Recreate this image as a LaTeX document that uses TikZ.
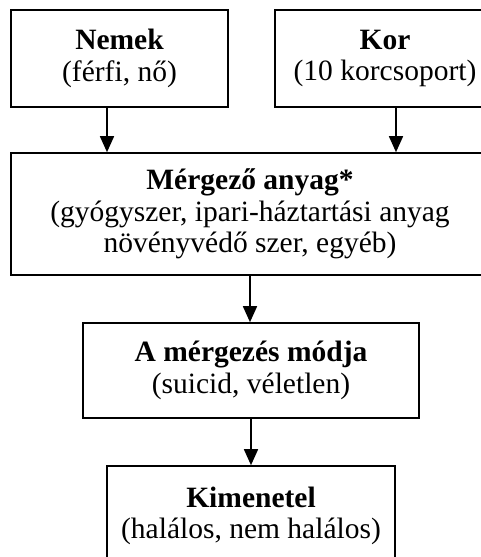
\documentclass[tikz,border=0pt]{standalone}
\usepackage{fontspec}
\setmainfont{Liberation Serif}
\usetikzlibrary{arrows.meta}

\tikzset{
  doboz/.style={draw, line width=1.6pt, inner sep=0pt, align=center,
    font=\fontsize{29.5}{31.5}\selectfont},
  nyil/.style={-{Triangle[width=14pt,length=16pt]}, line width=1.6pt}
}

\begin{document}
\begin{tikzpicture}[x=1pt, y=-1pt]
  % keret (481 x 557)
  \useasboundingbox (0,0) rectangle (481,557);
  \clip (0,0) rectangle (481,557);

  % felső sor
  \node[doboz, minimum width=217pt, minimum height=97pt] (nemek) at (119.5,58.5)
    {\textbf{Nemek}\\(férfi, nő)};
  \node[doboz, minimum width=220pt, minimum height=97pt] (kor) at (385,58.5)
    {\textbf{Kor}\\(10 korcsoport)};

  % mérgező anyag
  \node[doboz, minimum width=478pt, minimum height=122pt] (anyag) at (250,214)
    {\textbf{Mérgező anyag*}\\(gyógyszer, ipari-háztartási anyag\\növényvédő szer, egyéb)};

  % mód és kimenetel
  \node[doboz, minimum width=336pt, minimum height=95pt] (mod) at (251,370.5)
    {\textbf{A mérgezés módja}\\(suicid, véletlen)};
  \node[doboz, minimum width=288pt, minimum height=100pt] (kim) at (251,516)
    {\textbf{Kimenetel}\\(halálos, nem halálos)};

  % nyilak
  \draw[nyil] ([xshift=-12.5pt]nemek.south) -- ([xshift=-12.5pt]nemek.south |- anyag.north);
  \draw[nyil] ([xshift=11pt]kor.south) -- ([xshift=11pt]kor.south |- anyag.north);
  \draw[nyil] (anyag.south) -- (anyag.south |- mod.north);
  \draw[nyil] (mod.south) -- (kim.north);
\end{tikzpicture}
\end{document}
